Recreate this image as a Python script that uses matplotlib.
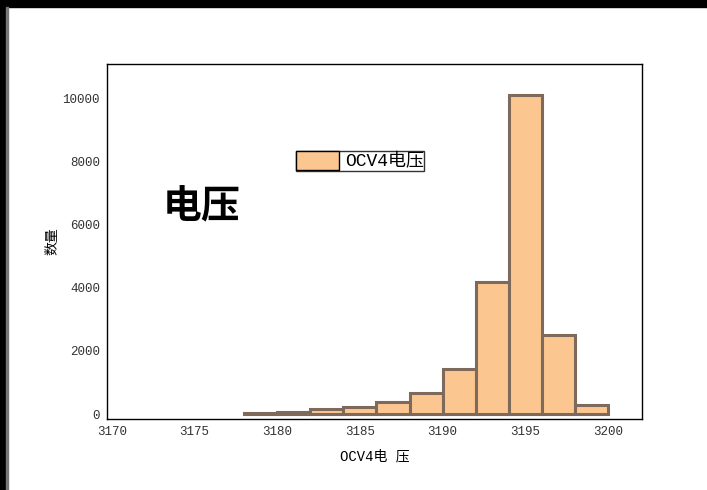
import matplotlib.pyplot as plt
from matplotlib.patches import Rectangle

# histogram bins (mV) and counts
bin_edges = [3178, 3180, 3182, 3184, 3186, 3188, 3190, 3192, 3194, 3196, 3198, 3200]
counts = [40, 75, 150, 210, 380, 675, 1415, 4170, 10090, 2500, 285]
xticks = [3170, 3175, 3180, 3185, 3190, 3195, 3200]
yticks = [0, 2000, 4000, 6000, 8000, 10000]

mono = ['Liberation Mono', 'Noto Sans CJK SC']
cjk = ['Noto Sans CJK SC', 'DejaVu Sans']

fig = plt.figure(figsize=(7.07, 4.90), dpi=100)
# dark screen border at top and left
fig.patches.append(Rectangle((0, 483 / 490), 1, 7 / 490, transform=fig.transFigure,
                             color='black', zorder=0))
fig.patches.append(Rectangle((0, 0), 6 / 707, 1, transform=fig.transFigure,
                             color='black', zorder=0))
fig.patches.append(Rectangle((6 / 707, 0), 2 / 707, 483 / 490, transform=fig.transFigure,
                             color='#777777', zorder=0))

ax = fig.add_axes([107 / 707, 1 - 419 / 490, 535 / 707, 355 / 490])

widths = [b - a for a, b in zip(bin_edges[:-1], bin_edges[1:])]
ax.bar(bin_edges[:-1], counts, width=widths, align='edge',
       facecolor='#FCC690', edgecolor='#7d6a5a', linewidth=2.2, label='OCV4电压')

ax.set_xlim(3169.7, 3202.06)
ax.set_ylim(-158, 11076)
ax.set_xticks(xticks)
ax.set_yticks(yticks)
ax.tick_params(length=0, labelsize=9, pad=5, colors='#333333')
for lbl in ax.get_xticklabels() + ax.get_yticklabels():
    lbl.set_family(mono)
for sp in ax.spines.values():
    sp.set_linewidth(1.0)
    sp.set_color('black')

ax.set_xlabel('OCV4电 压', family=mono, fontsize=10, labelpad=8)
ax.set_ylabel('数量', family=cjk, fontsize=10, labelpad=2)

leg = ax.legend(loc='upper left', bbox_to_anchor=(296 / 707, 1 - 151 / 490),
                bbox_transform=fig.transFigure, fancybox=False, borderpad=0.0,
                handlelength=2.38, handleheight=1.27, handletextpad=0.33,
                borderaxespad=0, prop={'family': mono, 'size': 13})
leg.get_frame().set_edgecolor('black')
leg.get_frame().set_linewidth(1.0)
for h in leg.legend_handles:
    h.set_edgecolor('black')
    h.set_linewidth(1.0)

fig.text(163 / 707, 1 - 207 / 490, '电压', family=cjk, fontsize=28,
         fontweight='bold', va='center', ha='left')

fig.savefig('out.png', dpi=100)
